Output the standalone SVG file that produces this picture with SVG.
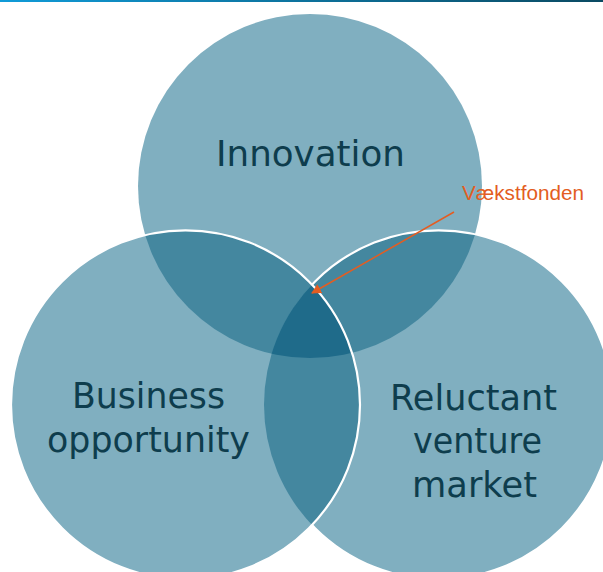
<svg xmlns="http://www.w3.org/2000/svg" width="603" height="572" viewBox="0 0 603 572">
<style>
.c{fill:#80afc0}
.d{fill:#44879f}
.t{fill:#1f6b8a}
.lbl{font-family:"DejaVu Sans","Liberation Sans",sans-serif;font-size:35px;fill:#0e3d4d;text-anchor:middle}
.ann{font-family:"Liberation Sans",Arial,sans-serif;font-size:20.5px;fill:#e35d22}
.edge{fill:none;stroke:#ffffff;stroke-width:2.2}
</style>
<defs>
<linearGradient id="bar" x1="0" y1="0" x2="1" y2="0">
<stop offset="0" stop-color="#109bd8"/>
<stop offset="1" stop-color="#0a4a62"/>
</linearGradient>
<clipPath id="clipT"><circle cx="310" cy="186" r="172"/></clipPath>
<clipPath id="clipL"><circle cx="185.5" cy="404.8" r="174.5"/></clipPath>
<clipPath id="clipNotL"><path clip-rule="evenodd" d="M0,0H603V572H0Z M11,404.8a174.5,174.5 0 1,0 349,0a174.5,174.5 0 1,0 -349,0Z"/></clipPath>
<marker id="ah" viewBox="0 0 10 10" refX="9" refY="5" markerWidth="10" markerHeight="10" markerUnits="userSpaceOnUse" orient="auto">
<path d="M0,0L10,5L0,10Z" fill="#e35d22"/>
</marker>
</defs>
<rect x="0" y="0" width="603" height="572" fill="#ffffff"/>
<rect x="0" y="0" width="603" height="2" fill="url(#bar)"/>

<g id="innovation">
<circle class="c" cx="310" cy="186" r="172"/>
<text class="lbl" x="310.5" y="166" textLength="189" lengthAdjust="spacingAndGlyphs">Innovation</text>
</g>
<g id="reluctant-venture-market">
<circle class="c" cx="438.5" cy="404.8" r="174.5"/>
<text class="lbl" x="473.5" y="410" textLength="167" lengthAdjust="spacingAndGlyphs">Reluctant</text>
<text class="lbl" x="477.5" y="453" textLength="129" lengthAdjust="spacingAndGlyphs">venture</text>
<text class="lbl" x="474.5" y="497" textLength="125" lengthAdjust="spacingAndGlyphs">market</text>
</g>
<g id="business-opportunity">
<circle class="c" cx="185.5" cy="404.8" r="174.5"/>
<text class="lbl" x="148.5" y="408" textLength="153" lengthAdjust="spacingAndGlyphs">Business</text>
<text class="lbl" x="148.5" y="452" textLength="203" lengthAdjust="spacingAndGlyphs">opportunity</text>
</g>

<g id="overlaps">
<circle class="d" cx="185.5" cy="404.8" r="174.5" clip-path="url(#clipT)"/>
<circle class="d" cx="438.5" cy="404.8" r="174.5" clip-path="url(#clipT)"/>
<circle class="d" cx="438.5" cy="404.8" r="174.5" clip-path="url(#clipL)"/>
<g clip-path="url(#clipL)">
<circle class="t" cx="438.5" cy="404.8" r="174.5" clip-path="url(#clipT)"/>
</g>
</g>

<g id="edges">
<circle class="edge" cx="438.5" cy="404.8" r="174.5" clip-path="url(#clipNotL)"/>
<circle class="edge" cx="185.5" cy="404.8" r="174.5"/>
</g>

<g id="vaekstfonden">
<text class="ann" x="462" y="200" textLength="122" lengthAdjust="spacingAndGlyphs">Vækstfonden</text>
</g>

<g id="connectors">
<line x1="454" y1="212" x2="312" y2="293" stroke="#e35d22" stroke-width="1.5" marker-end="url(#ah)"/>
</g>
</svg>
